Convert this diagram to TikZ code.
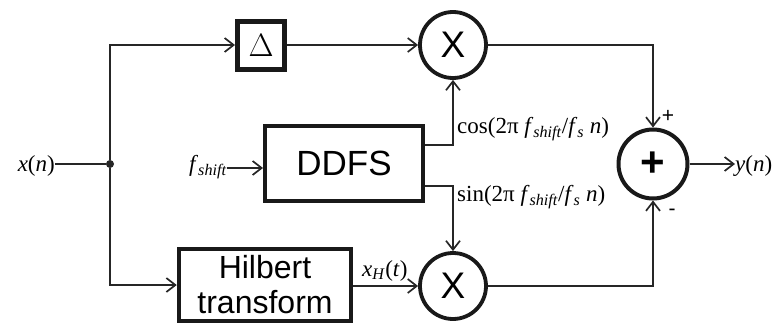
\documentclass[tikz,border=0pt]{standalone}
\usepackage{fontspec}
\usepackage{graphicx}
\setmainfont{Liberation Serif}
\newfontfamily\sansf{Liberation Sans}
\usetikzlibrary{arrows.meta,calc}
\begin{document}
\begin{tikzpicture}[x=1pt,y=-1pt,
  conn/.style={line width=1.8pt,draw=black!85},
  arr/.style={conn,-{Straight Barb[length=9pt,width=14pt,line width=1.7pt]}},
  blockbox/.style={draw=black!90,rectangle,inner sep=0pt},
  mulnode/.style={draw=black!90,circle,inner sep=0pt,minimum size=66pt,line width=3.8pt,
     font=\sansf\fontsize{37}{40}\selectfont},
  lbl/.style={inner sep=0pt,font=\fontsize{23}{27}\selectfont},
  sgn/.style={inner sep=0pt,font=\sansf\fontsize{21}{23}\selectfont}]
\useasboundingbox (0,0) rectangle (772,324);
% blocks
\node[blockbox,minimum width=47pt,minimum height=48pt,line width=5pt,
      font=\fontsize{24}{26}\selectfont] (delta) at (261,45) {\scalebox{1.3}{$\Delta$}};
\node[blockbox,minimum width=158pt,minimum height=75pt,line width=4pt,
      font=\sansf\fontsize{35}{38}\selectfont] (ddfs) at (344,163.5) {DDFS};
\node[blockbox,minimum width=172pt,minimum height=72pt,line width=4.5pt,align=center,
      font=\sansf\fontsize{32}{35}\selectfont] (hilb) at (265,285) {Hilbert\\transform};
\node[mulnode] (mtop) at (453,45) {X};
\node[mulnode] (mbot) at (453,286) {X};
\node[draw=black!90,circle,inner sep=0pt,minimum size=69pt,line width=4pt,
      font=\sansf\bfseries\fontsize{42}{44}\selectfont] (sum) at (653,164) {+};
% junction
\node[circle,fill=black!85,inner sep=0pt,minimum size=8pt] (j) at (110,164) {};
% labels
\node[lbl,anchor=east] (xin) at (55,166) {\textit{x}(\textit{n})};
\node[lbl,anchor=east] (fsh) at (227,167) {\textit{f}\textsubscript{\textit{shift}}};
\node[lbl,anchor=west] (yout) at (735,166) {\textit{y}(\textit{n})};
\node[lbl,anchor=base west] (xh) at (362,276) {\textit{x}\textsubscript{\textit{H}}(\textit{t})};
\node[lbl,anchor=west] (coslbl) at (457,129) {cos(2π \textit{f}\textsubscript{\textit{shift}}/\textit{f}\textsubscript{\textit{s}} \textit{n})};
\node[lbl,anchor=west] (sinlbl) at (457,197) {sin(2π \textit{f}\textsubscript{\textit{shift}}/\textit{f}\textsubscript{\textit{s}} \textit{n})};
\node[sgn] (plus) at (668,116) {+};
\node[sgn] (minus) at (672,212) {-};
% connectors
\draw[conn] (j -| xin.east) -- (j);
\draw[arr] (j) |- (delta.west);
\draw[arr] (j) |- (j |- hilb.west) -- (hilb.west);
\draw[arr] (delta.east) -- (mtop.west);
\draw[arr] (hilb.east |- mbot.west) -- (mbot.west);
\draw[arr] (fsh.east |- 0,168) -- (ddfs.west |- 0,168);
\draw[arr] ([yshift=18.5pt]ddfs.east) -| (mtop.south);
\draw[arr] ([yshift=-22.5pt]ddfs.east) -| (mbot.north);
\draw[arr] (mtop.east) -| (sum.north);
\draw[arr] (mbot.east) -| (sum.south);
\draw[arr] (sum.east) -- (yout.west |- sum.east);
\end{tikzpicture}
\end{document}
